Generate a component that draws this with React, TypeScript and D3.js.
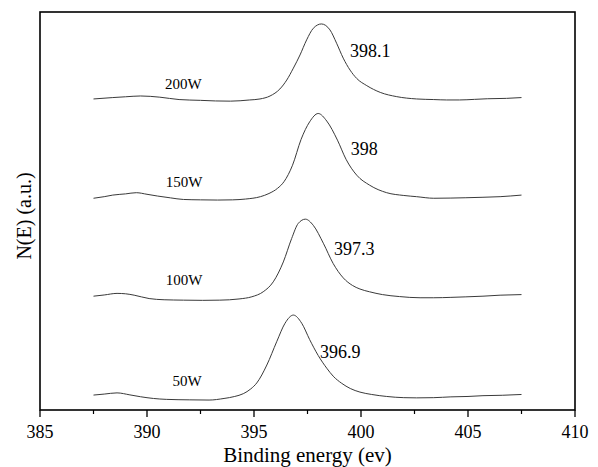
import React from "react";
import * as d3 from "d3";

// Series: power labels, vertical offsets (a.u.), and spectra [energy eV, intensity a.u.]
const seriesNames = ["50W", "100W", "150W", "200W"];
const seriesOffsets = [2.5, 27.6, 53.0, 78.0];
const peakLabels = ["396.9", "397.3", "398", "398.1"];

const spec50W: [number, number][] = [
  [387.5, 1.25], [388.0, 1.5], [388.6, 1.8], [389.2, 1.3], [389.7, 0.83], [390.3, 0.4],
  [390.9, 0.17], [392.0, 0.05], [392.9, 0.0], [393.6, 0.4], [394.1, 0.9], [394.5, 1.6],
  [394.85, 2.8], [395.13, 4.3], [395.6, 8.8], [396.06, 14.65], [396.45, 19.3], [396.84, 21.35],
  [397.23, 19.3], [397.6, 15.2], [398.0, 11.2], [398.4, 8.0], [398.7, 6.0], [399.1, 4.2],
  [399.5, 2.9], [399.95, 2.0], [400.5, 1.4], [401.2, 0.9], [402.0, 0.6], [402.6, 0.55],
  [403.4, 0.6], [404.2, 0.8], [405.0, 0.9], [405.7, 1.1], [406.6, 1.2], [407.5, 1.4],
];
const spec100W: [number, number][] = [
  [387.5, 1.0], [388.0, 1.3], [388.6, 1.7], [389.0, 1.6], [389.4, 1.25], [390.1, 0.4],
  [390.8, 0.1], [391.7, 0.0], [392.6, -0.05], [393.4, 0.0], [394.3, 0.3], [394.9, 0.85],
  [395.43, 2.1], [395.9, 4.6], [396.37, 9.6], [396.76, 15.5], [397.07, 19.3], [397.4, 20.35],
  [397.77, 18.8], [398.24, 14.3], [398.7, 9.2], [399.17, 5.6], [399.6, 3.7], [399.95, 2.8],
  [400.4, 2.1], [401.0, 1.4], [401.8, 0.9], [402.76, 0.6], [403.4, 0.6], [404.2, 0.7],
  [404.9, 0.83], [405.7, 1.0], [406.5, 1.25], [407.5, 1.4],
];
const spec150W: [number, number][] = [
  [387.5, 0.2], [388.0, 0.6], [388.4, 1.0], [389.0, 1.3], [389.5, 1.6], [390.0, 1.2],
  [390.5, 0.75], [391.1, 0.3], [391.7, -0.1], [392.5, -0.2], [393.3, -0.25], [394.0, -0.2],
  [394.6, 0.0], [395.3, 0.6], [395.7, 1.4], [396.1, 2.7], [396.4, 4.35], [396.8, 8.5],
  [397.2, 15.0], [397.6, 19.4], [398.0, 21.5], [398.4, 19.6], [398.9, 14.8], [399.3, 10.0],
  [399.8, 6.0], [400.4, 3.5], [401.2, 1.6], [402.0, 0.9], [402.6, 0.6], [403.4, 0.2],
  [404.2, 0.25], [404.9, 0.33], [405.7, 0.45], [406.5, 0.6], [407.5, 1.0],
];
const spec200W: [number, number][] = [
  [387.5, 0.15], [388.4, 0.5], [389.0, 0.7], [389.7, 0.9], [390.6, 0.6], [391.5, 0.0],
  [392.5, -0.2], [393.2, -0.35], [393.9, -0.4], [394.8, -0.1], [395.28, 0.15], [395.75, 0.9],
  [396.21, 2.66], [396.53, 4.9], [396.84, 7.9], [397.15, 11.2], [397.46, 15.0], [397.77, 17.9],
  [398.15, 19.0], [398.55, 17.5], [398.86, 14.15], [399.17, 10.4], [399.49, 7.4], [399.8, 5.3],
  [400.27, 3.5], [400.9, 1.8], [401.67, 0.73], [402.6, 0.15], [403.4, 0.0], [404.0, -0.1],
  [404.6, -0.1], [405.3, 0.05], [405.9, 0.2], [406.8, 0.3], [407.5, 0.5],
];
const spectra = [spec50W, spec100W, spec150W, spec200W];

// Annotation anchor positions in data units
const nameLabelX = [391.87, 391.73, 391.73, 391.7];
const nameLabelY = [6.03, 31.4, 56.03, 80.65];
const peakLabelX = [398.08, 398.74, 399.52, 399.49];
const peakLabelY = [13.14, 38.94, 64.07, 88.77];

const majorTicks = [385, 390, 395, 400, 405, 410];
const minorTicks = [387.5, 392.5, 397.5, 402.5, 407.5];

const W = 598;
const H = 467;
const left = 40, right = 575, top = 12, bottom = 410;
const font = '"Liberation Serif", "Times New Roman", Times, serif';

export default function App() {
  const x = d3.scaleLinear().domain([385, 410]).range([left, right]);
  const y = d3.scaleLinear().domain([0, 100]).range([bottom, top]);

  const line = d3
    .line<[number, number]>()
    .x((d) => x(d[0]))
    .y((d) => y(d[1]))
    .curve(d3.curveMonotoneX);

  const ts = { fontFamily: font };

  return (
    <svg
      width={W}
      height={H}
      style={{ position: "absolute", left: 0, top: 0, background: "#fff" }}
    >
      <rect x={0} y={0} width={W} height={H} fill="#fff" />
      {spectra.map((s, i) => (
        <path
          key={i}
          d={line(s.map((p) => [p[0], p[1] + seriesOffsets[i]] as [number, number])) || ""}
          fill="none"
          stroke="#3a3a3a"
          strokeWidth={1}
        />
      ))}
      <rect
        x={left}
        y={top}
        width={right - left}
        height={bottom - top}
        fill="none"
        stroke="#000"
        strokeWidth={1.6}
      />
      {majorTicks.map((t) => (
        <line key={"M" + t} x1={x(t)} x2={x(t)} y1={bottom} y2={bottom + 7} stroke="#000" strokeWidth={1.3} />
      ))}
      {minorTicks.map((t) => (
        <line key={"m" + t} x1={x(t)} x2={x(t)} y1={bottom} y2={bottom + 4} stroke="#000" strokeWidth={1.2} />
      ))}
      {majorTicks.map((t) => (
        <text key={"l" + t} x={x(t)} y={438} textAnchor="middle" fontSize={18} fill="#000" style={ts}>
          {t}
        </text>
      ))}
      <text x={(left + right) / 2} y={462} textAnchor="middle" fontSize={21} fill="#000" style={ts}>
        Binding energy (ev)
      </text>
      <text
        transform={`translate(31, ${(top + bottom) / 2 + 5}) rotate(-90)`}
        textAnchor="middle"
        fontSize={20}
        fill="#000"
        style={ts}
      >
        N(E) (a.u.)
      </text>
      {seriesNames.map((n, i) => (
        <text key={n} x={x(nameLabelX[i])} y={y(nameLabelY[i])} textAnchor="middle" fontSize={15} fill="#000" style={ts}>
          {n}
        </text>
      ))}
      {peakLabels.map((p, i) => (
        <text key={p} x={x(peakLabelX[i])} y={y(peakLabelY[i])} fontSize={18} fill="#000" style={ts}>
          {p}
        </text>
      ))}
    </svg>
  );
}
